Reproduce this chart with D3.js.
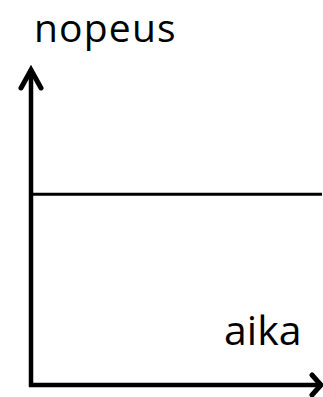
<!DOCTYPE html>
<html>
<head>
<meta charset="utf-8">
<script src="https://cdn.jsdelivr.net/npm/d3@7"></script>
<style>
  html, body { margin: 0; padding: 0; background: #fff; }
  svg { display: block; }
</style>
</head>
<body>
<svg id="chart" width="323" height="397"></svg>
<script>
// Constant speed over time
const times = [0, 10];
const speeds = [6, 6];
const axisLabels = { x: "aika", y: "nopeus" };

const svg = d3.select("#chart");
const x = d3.scaleLinear().domain([0, 10]).range([31, 322]);
const y = d3.scaleLinear().domain([0, 10]).range([385, 67]);

// Axes drawn as arrows
const axisStroke = 4.5;
svg.append("path")
  .attr("d", d3.line()([[x(0), y(0) + 2], [x(0), y(10) + 2]]))
  .attr("stroke", "#000").attr("stroke-width", axisStroke).attr("fill", "none");
svg.append("path")
  .attr("d", d3.line()([[x(0) - 2, y(0)], [x(10) - 2, y(0)]]))
  .attr("stroke", "#000").attr("stroke-width", axisStroke).attr("fill", "none");

// arrowheads
svg.append("path")
  .attr("d", d3.line()([[x(0) - 10, y(10) + 21], [x(0), y(10) + 3], [x(0) + 10, y(10) + 21]]))
  .attr("stroke", "#000").attr("stroke-width", 5).attr("fill", "none")
  .attr("stroke-linejoin", "miter").attr("stroke-linecap", "round");
svg.append("path")
  .attr("d", d3.line()([[x(10) - 10, y(0) - 10], [x(10) - 1, y(0)], [x(10) - 10, y(0) + 10]]))
  .attr("stroke", "#000").attr("stroke-width", 5).attr("fill", "none")
  .attr("stroke-linejoin", "miter").attr("stroke-linecap", "round");

// speed line
svg.append("path")
  .datum(times.map((t, i) => [t, speeds[i]]))
  .attr("d", d3.line().x(d => x(d[0])).y(d => y(d[1])))
  .attr("stroke", "#000").attr("stroke-width", 3).attr("fill", "none");

// labels
svg.append("text")
  .attr("x", 34).attr("y", 42)
  .attr("font-family", "'Open Sans', sans-serif").attr("font-size", 39)
  .attr("letter-spacing", 1.2)
  .attr("fill", "#000")
  .text(axisLabels.y);
svg.append("text")
  .attr("x", 224).attr("y", 345)
  .attr("font-family", "'Open Sans', sans-serif").attr("font-size", 41)
  .attr("fill", "#000")
  .text(axisLabels.x);
</script>
</body>
</html>
